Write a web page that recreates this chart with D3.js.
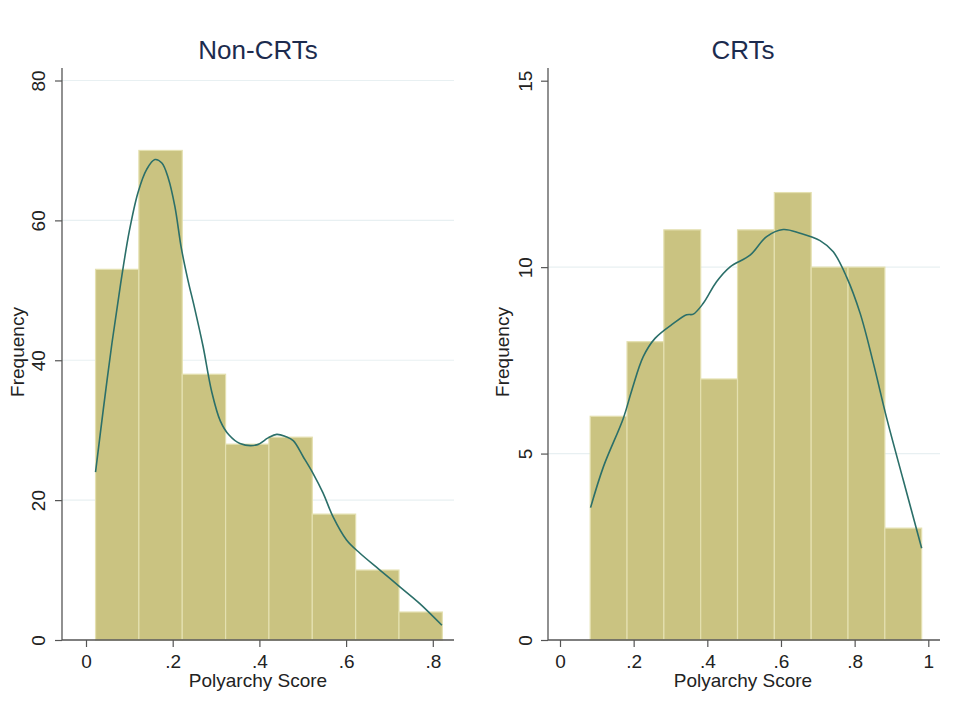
<!DOCTYPE html>
<html>
<head>
<meta charset="utf-8">
<script src="https://cdn.jsdelivr.net/npm/d3@7"></script>
<style>
  body { margin: 0; background: #fff; }
  svg { display: block; font-family: "Liberation Sans", Arial, sans-serif; }
</style>
</head>
<body>
<svg width="964" height="727"></svg>
<script>
// histogram data (bin starts, width .1)
var nonCrtBins = [0.022, 0.122, 0.222, 0.322, 0.422, 0.522, 0.622, 0.722];
var nonCrtCounts = [53, 70, 38, 28, 29, 18, 10, 4];
var crtBins = [0.082, 0.182, 0.282, 0.382, 0.482, 0.582, 0.682, 0.782, 0.882];
var crtCounts = [6, 8, 11, 7, 11, 12, 10, 10, 3];
var binWidth = 0.1;

// kernel density (scaled to frequency)
var nonCrtDensX = [0.022, 0.040, 0.060, 0.080, 0.100, 0.120, 0.140, 0.159, 0.175, 0.190, 0.205, 0.220, 0.235, 0.250, 0.270, 0.290, 0.310, 0.330, 0.355, 0.394, 0.420, 0.440, 0.460, 0.478, 0.501, 0.524, 0.547, 0.570, 0.601, 0.632, 0.678, 0.724, 0.770, 0.821];
var nonCrtDensY = [24, 33, 42.5, 51, 58.5, 64, 67.3, 68.7, 68.2, 66, 62, 56, 51.5, 47.6, 42, 35.5, 31.3, 29.3, 28.1, 27.9, 28.9, 29.4, 29.1, 28.5, 26.2, 23.8, 21.0, 17.6, 14.3, 12.4, 10.0, 7.6, 5.2, 2.1];
var crtDensX = [0.083, 0.118, 0.172, 0.195, 0.226, 0.258, 0.308, 0.344, 0.362, 0.389, 0.425, 0.462, 0.516, 0.561, 0.606, 0.652, 0.706, 0.742, 0.778, 0.815, 0.851, 0.887, 0.932, 0.982];
var crtDensY = [3.55, 4.65, 5.95, 6.7, 7.6, 8.09, 8.49, 8.72, 8.74, 9.03, 9.61, 10.01, 10.32, 10.82, 11.01, 10.91, 10.71, 10.41, 9.74, 8.76, 7.42, 5.95, 4.29, 2.46];

// ticks
var nonCrtXTicks = [0, 0.2, 0.4, 0.6, 0.8];
var nonCrtYTicks = [0, 20, 40, 60, 80];
var crtXTicks = [0, 0.2, 0.4, 0.6, 0.8, 1];
var crtYTicks = [0, 5, 10, 15];

var svg = d3.select("svg");

var barFill = "#cac381",
    barEdge = "#e4e0b0",
    lineColor = "#2b6f69",
    gridColor = "#e8f0f2",
    axisColor = "#555",
    titleColor = "#1c2b4e";

// stata style: 0, .2, .4 ... and plain integers
function fmt(v) {
  if (Number.isInteger(v)) return String(v);
  return d3.format(".1f")(v).replace(/^0/, "");
}

function drawPanel(p) {
  var g = svg.append("g");

  var x = d3.scaleLinear().domain(p.xDom).range(p.xRange);
  var y = d3.scaleLinear().domain(p.yDom).range([640, p.yTop]);

  // grid
  g.selectAll(".grid")
    .data(p.grid)
    .enter().append("line")
    .attr("x1", p.left).attr("x2", p.right)
    .attr("y1", d => y(d)).attr("y2", d => y(d))
    .attr("stroke", gridColor)
    .attr("stroke-width", 1.2);

  // bars
  g.selectAll(".bar")
    .data(p.bins.map((b, i) => ({ x0: b, n: p.counts[i] })))
    .enter().append("rect")
    .attr("x", d => x(d.x0))
    .attr("y", d => y(d.n))
    .attr("width", d => x(d.x0 + binWidth) - x(d.x0))
    .attr("height", d => y(0) - y(d.n))
    .attr("fill", barFill)
    .attr("stroke", barEdge)
    .attr("stroke-width", 1.2);

  // density
  var line = d3.line()
    .x(d => x(d[0]))
    .y(d => y(d[1]))
    .curve(d3.curveCatmullRom);

  g.append("path")
    .datum(p.densX.map((v, i) => [v, p.densY[i]]))
    .attr("d", line)
    .attr("fill", "none")
    .attr("stroke", lineColor)
    .attr("stroke-width", 1.6);

  // axis lines
  g.append("line")
    .attr("x1", p.left).attr("x2", p.left)
    .attr("y1", p.axisTop).attr("y2", 640)
    .attr("stroke", axisColor).attr("stroke-width", 1.3);
  g.append("line")
    .attr("x1", p.left).attr("x2", p.right)
    .attr("y1", 640).attr("y2", 640)
    .attr("stroke", axisColor).attr("stroke-width", 1.3);

  // x axis
  var xa = g.append("g")
    .attr("transform", "translate(0,640)")
    .call(d3.axisBottom(x).tickValues(p.xTicks).tickSize(7).tickPadding(6).tickFormat(fmt));
  xa.select(".domain").remove();
  xa.selectAll("line").attr("stroke", axisColor).attr("stroke-width", 1.2);
  xa.selectAll("text")
    .attr("y", 28).attr("dy", null)
    .attr("fill", "#222")
    .style("font-size", "19px");

  // y axis
  var ya = g.append("g")
    .attr("transform", "translate(" + p.left + ",0)")
    .call(d3.axisLeft(y).tickValues(p.yTicks).tickSize(7).tickFormat(fmt));
  ya.select(".domain").remove();
  ya.selectAll("line").attr("stroke", axisColor).attr("stroke-width", 1.2);
  ya.selectAll("text")
    .attr("x", null).attr("dy", null)
    .attr("text-anchor", "middle")
    .attr("transform", "translate(" + (p.yLabelX - p.left) + ",0) rotate(-90)")
    .attr("fill", "#222")
    .style("font-size", "19px");

  // titles
  g.append("text")
    .attr("x", p.titleX).attr("y", 59)
    .attr("text-anchor", "middle")
    .attr("fill", titleColor)
    .style("font-size", "26px")
    .text(p.title);

  g.append("text")
    .attr("x", p.titleX).attr("y", 687)
    .attr("text-anchor", "middle")
    .attr("fill", "#222")
    .style("font-size", "19px")
    .text("Polyarchy Score");

  g.append("text")
    .attr("transform", "translate(" + p.yTitleX + ",352) rotate(-90)")
    .attr("text-anchor", "middle")
    .attr("fill", "#222")
    .style("font-size", "19px")
    .text("Frequency");
}

drawPanel({
  title: "Non-CRTs",
  xDom: [0, 0.8], xRange: [86, 432.8],
  yDom: [0, 80], yTop: 80.5,
  left: 62, right: 454, axisTop: 68,
  bins: nonCrtBins, counts: nonCrtCounts,
  densX: nonCrtDensX, densY: nonCrtDensY,
  xTicks: nonCrtXTicks, yTicks: nonCrtYTicks,
  grid: [20, 40, 60, 80],
  yLabelX: 45, yTitleX: 24, titleX: 258
});

drawPanel({
  title: "CRTs",
  xDom: [0, 1], xRange: [560, 928.3],
  yDom: [0, 15], yTop: 80.7,
  left: 548, right: 940, axisTop: 68,
  bins: crtBins, counts: crtCounts,
  densX: crtDensX, densY: crtDensY,
  xTicks: crtXTicks, yTicks: crtYTicks,
  grid: [5, 10],
  yLabelX: 531.5, yTitleX: 509, titleX: 743
});
</script>
</body>
</html>
